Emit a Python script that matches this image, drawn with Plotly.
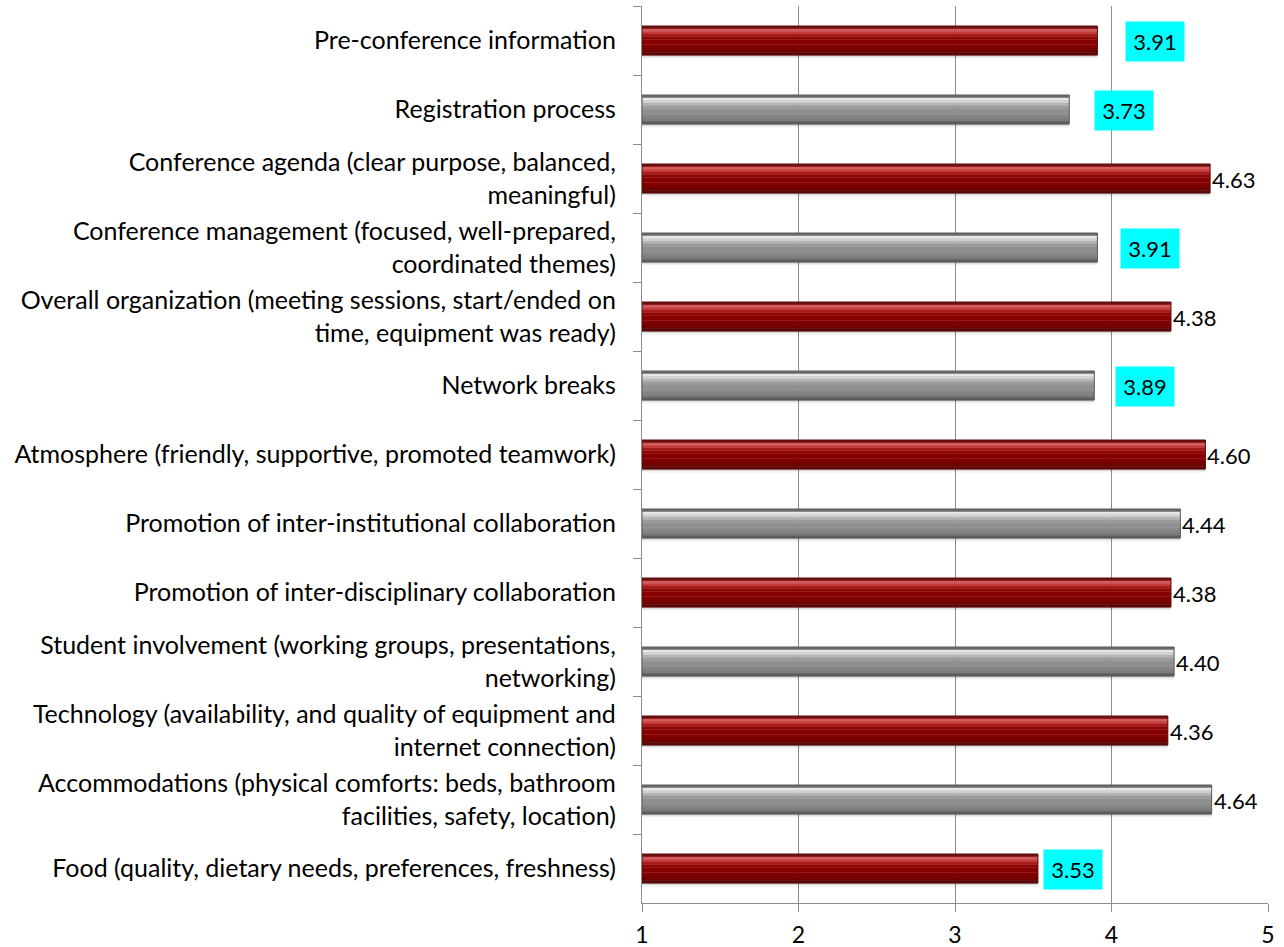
import plotly.graph_objects as go

# Survey items (top to bottom) and their mean ratings
categories = [
    "Pre-conference information",
    "Registration process",
    "Conference agenda (clear purpose, balanced,<br>meaningful)",
    "Conference management (focused, well-prepared,<br>coordinated themes)",
    "Overall organization (meeting sessions, start/ended on<br>time, equipment was ready)",
    "Network breaks",
    "Atmosphere (friendly, supportive, promoted teamwork)",
    "Promotion of inter-institutional collaboration",
    "Promotion of inter-disciplinary collaboration",
    "Student involvement (working groups, presentations,<br>networking)",
    "Technology (availability, and quality of equipment and<br>internet connection)",
    "Accommodations (physical comforts: beds, bathroom<br>facilities, safety, location)",
    "Food (quality, dietary needs, preferences, freshness)",
]
scores = [3.91, 3.73, 4.63, 3.91, 4.38, 3.89, 4.60, 4.44, 4.38, 4.40, 4.36, 4.64, 3.53]
x_ticks = [1, 2, 3, 4, 5]

# Ratings under 4 get a highlighted label; pixel gap between bar end and label box
highlight_gap = [26, 23, 0, 21, 0, 19, 0, 0, 0, 0, 0, 0, 3]

BASE = 1
FONT = "Lato"

# vertical gradient stops (top -> bottom) for the two bar styles
red_stops = ["#6e1010", "#d65a5a", "#c23a3a", "#a81a1a", "#8e0505", "#880000",
             "#860000", "#820000", "#7a0000", "#6e0000", "#5a0808"]
grey_stops = ["#6a6a6a", "#e6e6e6", "#d0d0d0", "#b4b4b4", "#9c9c9c", "#929292",
              "#8e8e8e", "#8a8a8a", "#848484", "#7a7a7a", "#5c5c5c"]

fig = go.Figure()

lengths = [s - BASE for s in scores]
half = 0.21

# soft drop shadow below each bar
for off, w, a in [(-0.19, 0.45, 0.06), (-0.19, 0.43, 0.08)]:
    fig.add_trace(go.Bar(
        y=categories, x=lengths, base=BASE, orientation="h",
        offset=off, width=w, marker=dict(color=f"rgba(0,0,0,{a})", line_width=0),
        hoverinfo="skip", showlegend=False,
    ))

n = len(red_stops)
edges = [-half + 2 * half * k / n for k in range(n + 1)]
for k in range(n):
    cols = [red_stops[k] if i % 2 == 0 else grey_stops[k] for i in range(len(scores))]
    fig.add_trace(go.Bar(
        y=categories, x=lengths, base=BASE, orientation="h",
        offset=edges[k], width=edges[k + 1] - edges[k] + 0.004,
        marker=dict(color=cols, line_width=0),
        hoverinfo="skip", showlegend=False,
    ))

# thin outline around each bar
fig.add_trace(go.Bar(
    y=categories, x=lengths, base=BASE, orientation="h",
    offset=-half, width=2 * half,
    marker=dict(color="rgba(0,0,0,0)",
                line=dict(color=["#5a0a0a" if i % 2 == 0 else "#5a5a5a" for i in range(len(scores))],
                          width=1)),
    hoverinfo="skip", showlegend=False,
))

annotations = []
for cat, s, gap in zip(categories, scores, highlight_gap):
    label = f"{s:.2f}"
    if s < 4:
        annotations.append(dict(
            x=s, y=cat, xref="x", yref="y", text=label, showarrow=False,
            xanchor="left", yanchor="middle", xshift=gap + 2, yshift=-1,
            bgcolor="#00ffff", width=56, height=37, align="center",
            font=dict(family=FONT, size=22, color="#000000"),
        ))
    else:
        annotations.append(dict(
            x=s, y=cat, xref="x", yref="y", text=label, showarrow=False,
            xanchor="left", yanchor="middle", xshift=0, yshift=-1,
            font=dict(family=FONT, size=22, color="#000000"),
        ))

fig.update_layout(
    width=1284, height=947,
    margin=dict(l=642, r=16, t=6, b=44),
    paper_bgcolor="white", plot_bgcolor="white",
    barmode="overlay", bargap=0.58,
    annotations=annotations,
    font=dict(family=FONT, size=25, color="#000000"),
    xaxis=dict(
        range=[1, 5], tickvals=x_ticks, ticktext=[str(t) for t in x_ticks],
        showgrid=True, gridcolor="#8c8c8c", gridwidth=1.3,
        showline=True, linecolor="#8c8c8c", linewidth=1.3,
        ticks="outside", ticklen=8, tickcolor="#8c8c8c", tickwidth=1.3,
        ticklabelstandoff=3, automargin=False,
        tickfont=dict(family=FONT, size=23, color="#000000"),
        zeroline=False, fixedrange=True,
    ),
    yaxis=dict(
        type="category", autorange="reversed",
        showline=True, linecolor="#8c8c8c", linewidth=1.3,
        ticks="outside", ticklen=8, tickcolor="#8c8c8c", tickwidth=1.3,
        tickson="boundaries", showgrid=False,
        ticklabelstandoff=20, automargin=False,
        tickfont=dict(family=FONT, size=25, color="#000000"),
        fixedrange=True,
    ),
)

fig.write_html("out.html")
